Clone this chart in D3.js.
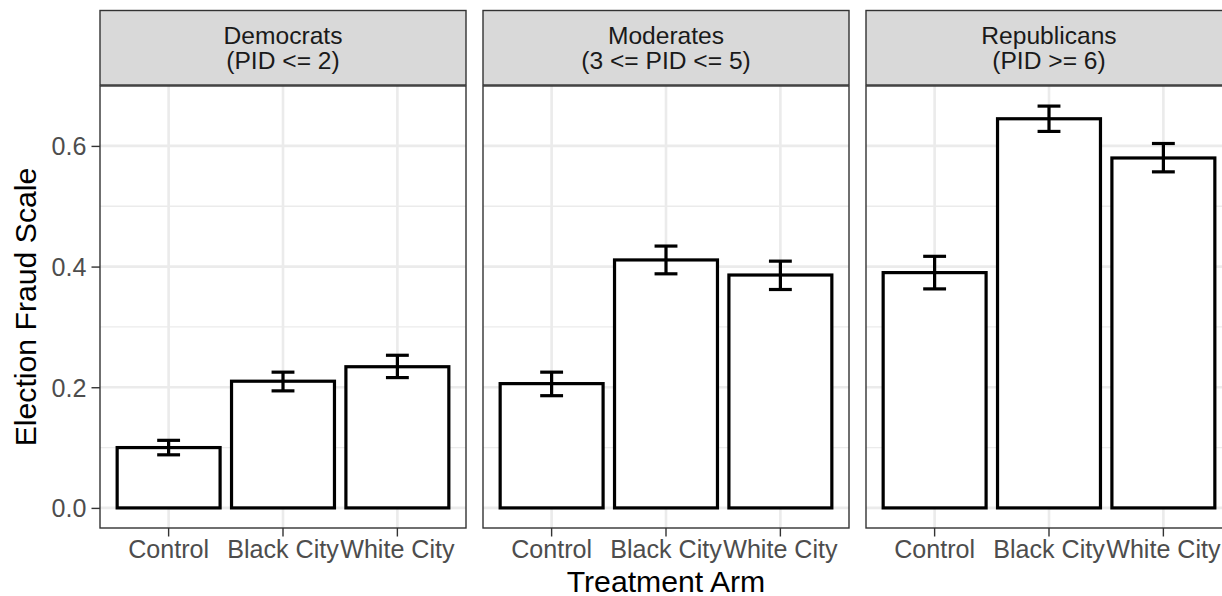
<!DOCTYPE html>
<html>
<head>
<meta charset="utf-8">
<script src="https://cdn.jsdelivr.net/npm/d3@7"></script>
<style>
  html, body { margin: 0; padding: 0; background: #fff; }
  svg { display: block; font-family: "Liberation Sans", Arial, sans-serif; }
</style>
</head>
<body>
<svg id="chart" width="1222" height="596"></svg>
<script>
// Facets (party ID groups), each with a two-line strip label
const groups = ["Democrats", "Moderates", "Republicans"];
const groupSub = ["(PID <= 2)", "(3 <= PID <= 5)", "(PID >= 6)"];
const arms = ["Control", "Black City", "White City"];

// Mean election fraud scale per treatment arm, one array per group
const demMean = [0.100, 0.210, 0.234];
const modMean = [0.206, 0.411, 0.386];
const repMean = [0.390, 0.645, 0.580];

// Error bar bounds
const demLow = [0.088, 0.194, 0.216];
const demHigh = [0.112, 0.225, 0.253];
const modLow = [0.186, 0.388, 0.362];
const modHigh = [0.225, 0.434, 0.409];
const repLow = [0.363, 0.624, 0.557];
const repHigh = [0.417, 0.666, 0.604];

const yTicks = [0, 0.2, 0.4, 0.6];
const yMinor = [0.1, 0.3, 0.5];

const means = [demMean, modMean, repMean];
const lows = [demLow, modLow, repLow];
const highs = [demHigh, modHigh, repHigh];

const svg = d3.select("#chart");

// Layout
const panelLeft = 100, panelW = 366, panelGap = 17;
const stripTop = 10.5, stripBottom = 85;
const panelTop = 86, panelBottom = 528;
const tickFont = "25.1px", stripFont = "24.6px", titleFont = "30.2px";

// y scale with 5% expansion on both sides of the data range
const yHi = d3.max(highs.flat());
const yLo = 0;
const pad = 0.05 * (yHi - yLo);
const y = d3.scaleLinear().domain([yLo - pad, yHi + pad]).range([panelBottom, panelTop]);

// Band scale reproduces 0.9-wide bars with 0.6-unit discrete expansion
const x = d3.scaleBand().domain(arms).range([0, panelW]).paddingInner(0.1).paddingOuter(0.15);

groups.forEach((g, gi) => {
  const px = panelLeft + gi * (panelW + panelGap);
  const panel = svg.append("g").attr("transform", `translate(${px},0)`);

  // panel background
  panel.append("rect").attr("x", 0).attr("y", panelTop).attr("width", panelW)
    .attr("height", panelBottom - panelTop).attr("fill", "#fff");

  // minor grid
  panel.selectAll(".ymin").data(yMinor).join("line")
    .attr("x1", 0).attr("x2", panelW)
    .attr("y1", d => y(d)).attr("y2", d => y(d))
    .attr("stroke", "#EBEBEB").attr("stroke-width", 1.3);

  // major grid
  panel.selectAll(".ymaj").data(yTicks).join("line")
    .attr("x1", 0).attr("x2", panelW)
    .attr("y1", d => y(d)).attr("y2", d => y(d))
    .attr("stroke", "#EBEBEB").attr("stroke-width", 2.6);
  panel.selectAll(".xmaj").data(arms).join("line")
    .attr("x1", d => x(d) + x.bandwidth() / 2).attr("x2", d => x(d) + x.bandwidth() / 2)
    .attr("y1", panelTop).attr("y2", panelBottom)
    .attr("stroke", "#EBEBEB").attr("stroke-width", 2.6);

  // bars
  panel.selectAll(".bar").data(arms).join("rect")
    .attr("x", d => x(d))
    .attr("width", x.bandwidth())
    .attr("y", (d, i) => y(means[gi][i]))
    .attr("height", (d, i) => y(0) - y(means[gi][i]))
    .attr("fill", "#fff").attr("stroke", "#000").attr("stroke-width", 3.2);

  // error bars (cap width 0.2 of a category step)
  const capW = x.step() * 0.2;
  const eb = panel.selectAll(".eb").data(arms).join("g")
    .attr("transform", d => `translate(${x(d) + x.bandwidth() / 2},0)`);
  eb.append("line").attr("x1", 0).attr("x2", 0)
    .attr("y1", (d, i) => y(lows[gi][i])).attr("y2", (d, i) => y(highs[gi][i]))
    .attr("stroke", "#000").attr("stroke-width", 3.2);
  eb.append("line").attr("x1", -capW / 2).attr("x2", capW / 2)
    .attr("y1", (d, i) => y(highs[gi][i])).attr("y2", (d, i) => y(highs[gi][i]))
    .attr("stroke", "#000").attr("stroke-width", 3.2);
  eb.append("line").attr("x1", -capW / 2).attr("x2", capW / 2)
    .attr("y1", (d, i) => y(lows[gi][i])).attr("y2", (d, i) => y(lows[gi][i]))
    .attr("stroke", "#000").attr("stroke-width", 3.2);

  // panel border
  panel.append("rect").attr("x", 0).attr("y", panelTop).attr("width", panelW)
    .attr("height", panelBottom - panelTop)
    .attr("fill", "none").attr("stroke", "#333333").attr("stroke-width", 1.4);

  // strip
  panel.append("rect").attr("x", 0).attr("y", stripTop).attr("width", panelW)
    .attr("height", stripBottom - stripTop)
    .attr("fill", "#D9D9D9").attr("stroke", "#333333").attr("stroke-width", 1.4);
  const st = panel.append("text").attr("text-anchor", "middle")
    .attr("fill", "#1A1A1A").style("font-size", stripFont);
  st.append("tspan").attr("x", panelW / 2).attr("y", 44.3).text(g);
  st.append("tspan").attr("x", panelW / 2).attr("y", 69).text(groupSub[gi]);

  // x axis
  const xAxis = panel.append("g").attr("transform", `translate(0,${panelBottom})`)
    .call(d3.axisBottom(x).tickSize(8.5).tickPadding(0));
  xAxis.select(".domain").remove();
  xAxis.selectAll(".tick line").attr("stroke", "#333333").attr("stroke-width", 1.4);
  xAxis.selectAll(".tick text").attr("fill", "#4D4D4D").style("font-size", tickFont)
    .attr("dy", null).attr("y", 30.3);

  // y axis on first panel only
  if (gi === 0) {
    const yAxis = panel.append("g")
      .call(d3.axisLeft(y).tickValues(yTicks).tickFormat(d3.format(".1f")).tickSize(8.5).tickPadding(5));
    yAxis.select(".domain").remove();
    yAxis.selectAll(".tick line").attr("stroke", "#333333").attr("stroke-width", 1.4);
    yAxis.selectAll(".tick text").attr("fill", "#4D4D4D").style("font-size", tickFont)
      .attr("dy", "0.36em");
  }
});

// axis titles
const totalW = 3 * panelW + 2 * panelGap;
svg.append("text").attr("x", panelLeft + totalW / 2).attr("y", 591.5)
  .attr("text-anchor", "middle").attr("fill", "#000").style("font-size", titleFont)
  .text("Treatment Arm");
svg.append("text")
  .attr("transform", `translate(35.5,${(panelTop + panelBottom) / 2}) rotate(-90)`)
  .attr("text-anchor", "middle").attr("fill", "#000").style("font-size", titleFont)
  .text("Election Fraud Scale");
</script>
</body>
</html>
